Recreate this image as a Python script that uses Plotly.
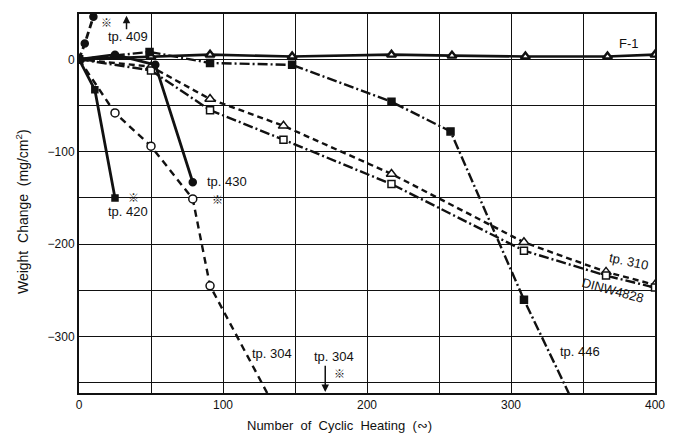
import plotly.graph_objects as go

# Weight change of each specimen versus number of heating cycles
cyc_f1 = [0, 50, 91, 148, 217, 259, 310, 367, 400]
wc_f1 = [0, 3, 5, 3, 5, 4, 3, 3, 5]

cyc_tp310 = [0, 50, 91, 142, 217, 309, 366, 400]
wc_tp310 = [0, -8, -43, -72, -124, -198, -230, -244]

cyc_dinw = [0, 50, 91, 142, 217, 309, 366, 400]
wc_dinw = [0, -12, -55, -87, -135, -207, -234, -247]

cyc_tp446 = [0, 49, 91, 148, 217, 258, 309, 352]
wc_tp446 = [0, 8, -4, -6, -46, -78, -260, -400]

cyc_tp304 = [0, 25, 50, 79, 91, 144]
wc_tp304 = [0, -58, -94, -151, -245, -400]

cyc_tp430 = [0, 25, 53, 79]
wc_tp430 = [0, 5, -6, -133]

cyc_tp420 = [0, 11, 25]
wc_tp420 = [0, -33, -150]

cyc_tp409 = [0, 4, 10]
wc_tp409 = [0, 17, 46]

x_ticks = [0, 50, 100, 150, 200, 250, 300, 350, 400]
x_labels = ["0", "", "100", "", "200", "", "300", "", "400"]
y_ticks = [0, -50, -100, -150, -200, -250, -300, -350]
y_labels = ["0", "", "\u2212100", "", "\u2212200", "", "\u2212300", ""]

BLACK = "#111111"
FONT = "Liberation Sans, Arial, sans-serif"
CJK = "Noto Sans CJK JP"

fig = go.Figure()


def add(x, y, dash, symbol, size, width=2.4, fill=BLACK, mline=1.5):
    fig.add_trace(go.Scatter(
        x=x, y=y, mode="lines+markers",
        line=dict(color=BLACK, width=width, dash=dash),
        marker=dict(symbol=symbol, size=size, color=fill,
                    line=dict(color=BLACK, width=mline)),
        showlegend=False, cliponaxis=True,
    ))


add(cyc_f1, wc_f1, "solid", "triangle-up", 8, width=2.6, fill="white", mline=2.4)
add(cyc_tp310, wc_tp310, "6px,4px", "triangle-up", 9, fill="white")
add(cyc_dinw, wc_dinw, "10px,3px,2px,3px", "square", 7, fill="white")
add(cyc_tp446, wc_tp446, "10px,3px,2px,3px", "square", 7)
add(cyc_tp304, wc_tp304, "7px,5px", "circle", 8, fill="white")
add(cyc_tp430, wc_tp430, "solid", "circle", 7, width=2.8)
add(cyc_tp420, wc_tp420, "solid", "square", 6, width=2.8)
add(cyc_tp409, wc_tp409, "7px,4px", "circle", 7, width=2.8)


def label(x, y, text, angle=0, size=13, font=FONT):
    fig.add_annotation(x=x, y=y, text=text, showarrow=False, textangle=angle,
                       xanchor="center", yanchor="middle",
                       font=dict(family=font, size=size, color=BLACK),
                       xref="x", yref="y")


label(34, 25, "tp. 409")
label(19, 40, "※", size=11, font=CJK)
label(34, -165, "tp. 420")
label(38, -149, "※", size=11, font=CJK)
label(103, -132, "tp. 430")
label(96, -151, "※", size=11, font=CJK)
label(134, -318, "tp. 304")
label(177, -322, "tp. 304")
label(181, -339, "※", size=11, font=CJK)
label(348, -316, "tp. 446")
label(382, -219, "tp. 310", angle=12)
label(371, -250, "DINW4828", angle=15)
label(382, 17, "F-1")

# Arrows marking the specimens that left the scale
fig.add_annotation(x=33, y=47, ax=33, ay=31, xref="x", yref="y", axref="x", ayref="y",
                   text="", showarrow=True, arrowhead=2, arrowsize=1, arrowwidth=1.5,
                   arrowcolor=BLACK)
fig.add_annotation(x=171, y=-360, ax=171, ay=-330, xref="x", yref="y", axref="x", ayref="y",
                   text="", showarrow=True, arrowhead=2, arrowsize=1, arrowwidth=1.5,
                   arrowcolor=BLACK)

# Axis titles
fig.add_annotation(x=0.453, y=-0.085, xref="paper", yref="paper", showarrow=False,
                   xanchor="center", yanchor="middle",
                   text="Number  of  Cyclic  Heating  (∾)",
                   font=dict(family=FONT, size=13, color=BLACK))
fig.add_annotation(x=-0.099, y=0.48, xref="paper", yref="paper", showarrow=False,
                   xanchor="center", yanchor="middle",
                   text="Weight  Change  (mg/cm<sup>2</sup>)", textangle=-90,
                   font=dict(family=FONT, size=14, color=BLACK))

axis_common = dict(showgrid=True, gridcolor=BLACK, gridwidth=1.3, zeroline=False,
                   showline=True, linecolor=BLACK, linewidth=2, mirror=True,
                   ticks="", tickfont=dict(family=FONT, size=12, color=BLACK))

fig.update_xaxes(range=[0, 400], tickmode="array", tickvals=x_ticks,
                 ticktext=x_labels, **axis_common)
fig.update_yaxes(range=[-361, 49], tickmode="array", tickvals=y_ticks,
                 ticktext=y_labels, **axis_common)

fig.update_layout(width=677, height=443, margin=dict(l=79, r=22, t=12, b=50),
                  paper_bgcolor="white", plot_bgcolor="white")

fig.write_html("out.html")
